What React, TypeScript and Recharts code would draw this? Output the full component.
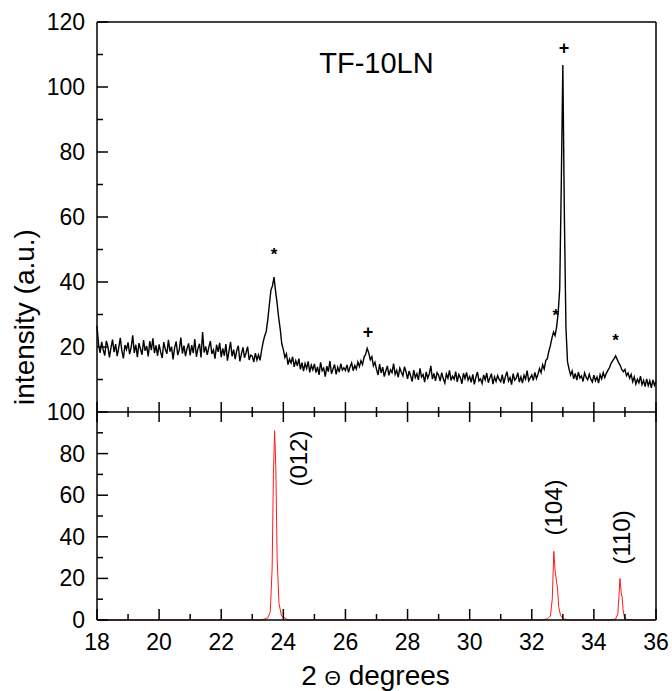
import { ComposedChart, Line, Scatter, XAxis, YAxis, ReferenceLine } from 'recharts';

// measured pattern, 0.05 deg steps starting at 18.00 (one row per degree)
const scanStart = 18;
const scanStep = 0.05;
const measuredRows: number[][] = [
  [26.5, 20.8, 18.2, 21.6, 19.1, 17.4, 21.9, 20.2, 16.8, 19.7, 22.3, 18.4, 20.9, 17.2, 19.8, 22.8, 18.9, 16.5, 20.6, 19.2],
  [21.4, 17.8, 19.9, 23.6, 18.2, 20.7, 16.9, 21.2, 19.4, 17.6, 22.1, 18.8, 20.3, 17.1, 21.8, 19.0, 22.7, 18.1, 20.5, 17.3],
  [20.8, 18.4, 16.6, 21.5, 19.3, 17.9, 22.2, 18.6, 20.1, 16.2, 19.8, 21.7, 17.5, 19.2, 22.9, 18.0, 20.4, 17.2, 19.6, 21.1],
  [17.4, 20.6, 18.1, 22.4, 17.0, 19.5, 21.0, 16.8, 24.6, 18.3, 20.2, 17.6, 19.9, 21.8, 17.9, 19.1, 16.4, 20.7, 18.5, 21.3],
  [16.9, 19.6, 17.3, 20.9, 15.8, 18.7, 21.6, 17.1, 19.2, 16.3, 18.9, 20.4, 15.6, 17.8, 19.9, 16.7, 18.3, 20.1, 16.0, 17.5],
  [17.2, 15.4, 18.1, 16.0, 17.6, 15.9, 19.0, 21.5, 23.4, 24.8, 28.5, 33.0, 37.5, 38.8, 41.5, 37.2, 33.5, 29.0, 25.5, 21.0],
  [19.2, 16.8, 17.9, 14.6, 16.3, 15.1, 17.0, 13.9, 15.8, 14.2, 16.4, 13.1, 15.2, 12.6, 14.9, 13.4, 15.6, 12.2, 14.4, 13.0],
  [14.8, 12.1, 13.9, 11.4, 15.3, 12.7, 13.5, 10.9, 14.1, 12.4, 15.7, 11.8, 13.2, 14.6, 11.6, 13.8, 12.3, 14.9, 12.9, 13.6],
  [12.8, 14.5, 12.2, 13.9, 15.1, 12.7, 14.3, 13.2, 15.4, 14.0, 15.8, 14.6, 16.9, 17.8, 19.6, 18.2, 16.1, 17.0, 14.2, 15.3],
  [13.1, 11.4, 14.7, 12.0, 13.8, 10.9, 12.6, 14.2, 11.3, 13.0, 12.1, 14.9, 11.6, 12.8, 10.7, 13.5, 12.2, 11.1, 13.9, 12.4],
  [10.2, 12.6, 11.1, 9.4, 12.9, 10.6, 11.8, 9.9, 13.4, 10.8, 11.5, 9.2, 12.3, 10.4, 11.7, 14.2, 10.1, 11.9, 9.6, 12.1],
  [11.3, 9.5, 12.1, 10.2, 8.9, 11.7, 10.4, 12.8, 9.7, 11.0, 10.1, 12.4, 9.3, 11.5, 10.6, 8.7, 11.9, 10.3, 12.2, 9.8],
  [10.9, 9.1, 11.6, 8.5, 10.7, 12.3, 9.6, 10.2, 8.8, 11.4, 9.9, 12.0, 9.0, 10.5, 11.8, 8.6, 10.8, 9.4, 11.2, 10.0],
  [9.3, 11.5, 8.7, 10.9, 12.4, 9.5, 10.6, 8.4, 11.8, 9.8, 10.4, 12.1, 9.2, 10.8, 8.9, 11.3, 10.1, 12.7, 9.6, 10.5],
  [11.4, 9.7, 12.2, 10.3, 11.6, 13.4, 12.1, 14.5, 13.2, 15.8, 16.4, 18.7, 20.5, 22.8, 24.6, 23.5, 26.2, 30.5, 38.0, 70.0],
  [106.8, 60.0, 26.0, 15.5, 13.2, 11.4, 12.6, 10.2, 11.9, 9.8, 12.3, 10.5, 11.1, 9.4, 12.0, 10.7, 9.9, 11.6, 10.1, 9.2],
  [11.3, 9.6, 10.8, 8.9, 11.5, 10.2, 12.1, 10.6, 11.9, 12.8, 13.6, 14.9, 15.7, 16.4, 17.3, 16.2, 15.1, 14.3, 13.0, 12.4],
  [13.1, 11.2, 12.0, 10.4, 11.6, 9.3, 10.8, 8.6, 10.1, 9.0, 11.0, 8.4, 9.7, 7.8, 10.2, 8.1, 9.6, 7.4, 9.9, 8.2],
  [9.5],
];
const measured = measuredRows.flat().map((y, i) => ({ x: scanStart + i * scanStep, y }));

// reference (simulated) pattern
const refX = [18, 23.3, 23.5, 23.58, 23.64, 23.68, 23.72, 23.76, 23.8, 23.86, 23.94, 24.15, 32.3, 32.5, 32.6, 32.66, 32.71, 32.75, 32.8, 32.83, 32.87, 32.93, 33.02, 33.2, 34.5, 34.7, 34.77, 34.81, 34.84, 34.88, 34.91, 34.94, 34.98, 35.05, 35.3, 36];
const refY = [0, 0, 1, 4, 25, 70, 91, 72, 30, 8, 2, 0, 0, 0.5, 2, 10, 33, 24, 18, 15, 6, 2, 0.5, 0, 0, 0.5, 3, 12, 20, 13, 11, 5, 1.5, 0.3, 0, 0];
const reference = refX.map((x, i) => ({ x, y: refY[i] }));

// phase markers above measured peaks
const markerX = [23.7, 26.73, 32.77, 33.04, 34.7];
const markerY = [50, 24.5, 31.2, 112, 23.4];
const markerSymbol = ['*', '+', '*', '+', '*'];
const markers = markerX.map((x, i) => ({ x, y: markerY[i], s: markerSymbol[i] }));

// hkl labels of the reference peaks
const hklX = [24.5, 32.7, 34.89];
const hklY = [77.6, 54.1, 39.7];
const hklText = ['(012)', '(104)', '(110)'];
const hkl = hklX.map((x, i) => ({ x, y: hklY[i], s: hklText[i] }));

const xTicks = [18, 19, 20, 21, 22, 23, 24, 25, 26, 27, 28, 29, 30, 31, 32, 33, 34, 35, 36];
const topYTicks = [10, 20, 30, 40, 50, 60, 70, 80, 90, 100, 110, 120];
const bottomYTicks = [0, 10, 20, 30, 40, 50, 60, 70, 80, 90, 100];

const FONT = '"Liberation Sans", Arial, Helvetica, sans-serif';
const AXIS = { stroke: '#000', strokeWidth: 1.5 };

function JunctionTick({ x, y, payload }: any) {
  const h = payload.value % 2 === 0 ? 10 : 5;
  return <line x1={x} x2={x} y1={y - h} y2={y + h} stroke="#000" strokeWidth={1.5} />;
}

function BottomXTick({ x, y, payload }: any) {
  const major = payload.value % 2 === 0;
  return (
    <g>
      <line x1={x} x2={x} y1={y} y2={y - (major ? 11 : 6)} stroke="#000" strokeWidth={1.5} />
      {major && (
        <text x={x} y={y + 22} textAnchor="middle" dominantBaseline="central" fontSize={23} fontFamily={FONT} fill="#000">
          {payload.value}
        </text>
      )}
    </g>
  );
}

function LeftYTick({ x, y, payload }: any) {
  const major = payload.value % 20 === 0;
  return (
    <g>
      <line x1={x} x2={x + (major ? 11 : 6)} y1={y} y2={y} stroke="#000" strokeWidth={1.5} />
      {major && (
        <text x={x - 12} y={y} textAnchor="end" dominantBaseline="central" fontSize={23} fontFamily={FONT} fill="#000">
          {payload.value}
        </text>
      )}
    </g>
  );
}

function MarkerShape({ cx, cy, payload }: any) {
  const star = payload.s === '*';
  return (
    <text x={cx} y={cy + (star ? 10 : 5.5)} textAnchor="middle" fontSize={star ? 17 : 18} fontWeight="bold" fontFamily={FONT} fill="#000">
      {payload.s}
    </text>
  );
}

function HklShape({ cx, cy, payload }: any) {
  return (
    <text
      x={cx}
      y={cy}
      transform={`rotate(-90, ${cx}, ${cy})`}
      textAnchor="middle"
      dominantBaseline="central"
      fontSize={24}
      fontFamily={FONT}
      fill="#000"
    >
      {payload.s}
    </text>
  );
}

export default function App() {
  return (
    <div style={{ position: 'absolute', left: 0, top: 0, width: 672, height: 691, background: '#fff' }}>
      <div style={{ position: 'absolute', left: 0, top: 400 }}>
        <ComposedChart width={672} height={291} margin={{ top: 12, right: 16, left: 0, bottom: 0 }}>
          <XAxis
            dataKey="x"
            type="number"
            domain={[18, 36]}
            ticks={xTicks}
            interval={0}
            height={71}
            tickSize={0}
            tickMargin={0}
            tickLine={false}
            axisLine={AXIS}
            tick={<BottomXTick />}
          />
          <YAxis
            type="number"
            domain={[0, 100]}
            ticks={bottomYTicks}
            interval={0}
            width={97}
            tickSize={0}
            tickMargin={0}
            tickLine={false}
            axisLine={AXIS}
            tick={<LeftYTick />}
          />
          <ReferenceLine x={36} stroke="#000" strokeWidth={1.5} />
          <Line data={reference} dataKey="y" type="linear" stroke="#ff1a1a" strokeWidth={1} dot={false} activeDot={false} isAnimationActive={false} />
          <Scatter data={hkl} dataKey="y" shape={<HklShape />} isAnimationActive={false} />
        </ComposedChart>
      </div>
      <div style={{ position: 'absolute', left: 0, top: 0 }}>
        <ComposedChart width={672} height={430} margin={{ top: 22, right: 16, left: 0, bottom: 0 }}>
          <XAxis
            dataKey="x"
            type="number"
            domain={[18, 36]}
            ticks={xTicks}
            interval={0}
            height={18}
            tickSize={0}
            tickMargin={0}
            tickLine={false}
            axisLine={AXIS}
            tick={<JunctionTick />}
          />
          <YAxis
            type="number"
            domain={[0, 120]}
            ticks={topYTicks}
            interval={0}
            width={97}
            tickSize={0}
            tickMargin={0}
            tickLine={false}
            axisLine={AXIS}
            tick={<LeftYTick />}
          />
          <ReferenceLine y={120} stroke="#000" strokeWidth={1.5} />
          <ReferenceLine x={36} stroke="#000" strokeWidth={1.5} />
          <Line data={measured} dataKey="y" type="linear" stroke="#000" strokeWidth={1.4} dot={false} activeDot={false} isAnimationActive={false} />
          <Scatter data={markers} dataKey="y" shape={<MarkerShape />} isAnimationActive={false} />
        </ComposedChart>
      </div>
      <svg width={672} height={691} style={{ position: 'absolute', left: 0, top: 0, pointerEvents: 'none' }}>
        <text x={376.5} y={73} textAnchor="middle" fontSize={29} fontFamily={FONT} fill="#000">
          TF-10LN
        </text>
        <text x={34} y={317} transform="rotate(-90, 34, 317)" textAnchor="middle" fontSize={28} fontFamily={FONT} fill="#000">
          intensity (a.u.)
        </text>
        <text x={375.5} y={685} textAnchor="middle" fontSize={28} fontFamily={FONT} fill="#000">
          2 <tspan fontSize={21}>Θ</tspan> degrees
        </text>
      </svg>
    </div>
  );
}
